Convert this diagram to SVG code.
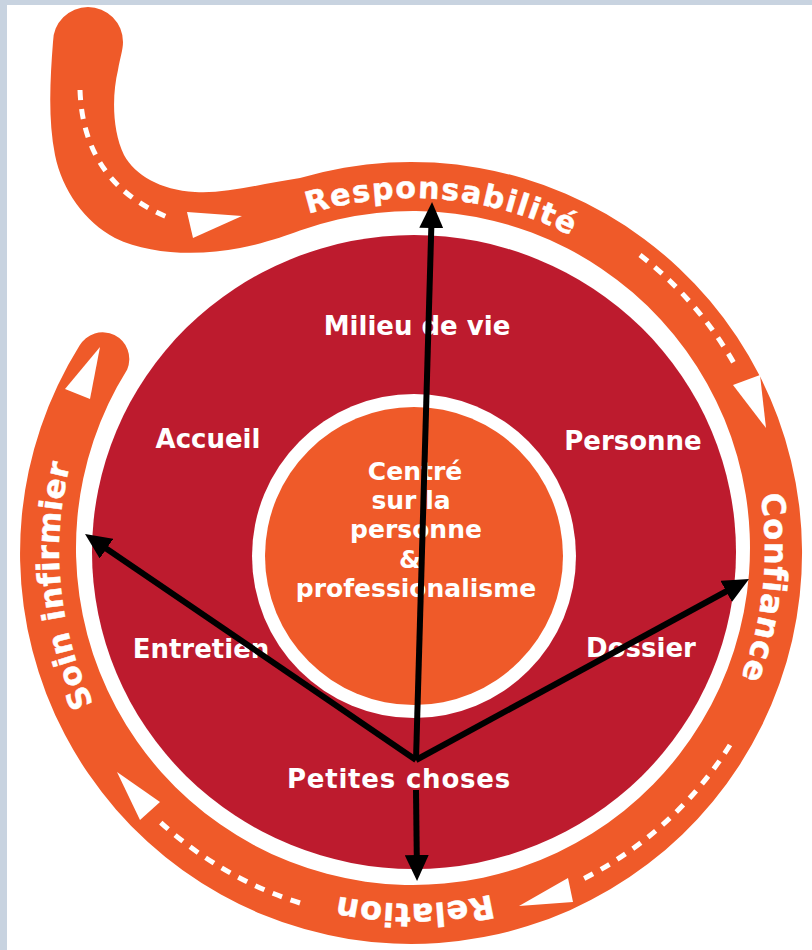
<svg xmlns="http://www.w3.org/2000/svg" width="812" height="950" viewBox="0 0 812 950">
<defs>
<style>
.orange{fill:#ef5a29}
.red{fill:#bd1b2e}
.lbl{font-family:"DejaVu Sans","Liberation Sans",sans-serif;font-weight:bold;fill:#fff;text-anchor:middle;font-size:26px}
.core{font-family:"DejaVu Sans","Liberation Sans",sans-serif;font-weight:bold;fill:#fff;text-anchor:middle;font-size:25px}
.rt{font-family:"DejaVu Sans","Liberation Sans",sans-serif;font-weight:bold;fill:#fff;stroke:#fff;stroke-width:0.5px;font-size:32px;text-anchor:middle}
.dash{fill:none;stroke:#fff;stroke-width:5;stroke-dasharray:10 9}
.tri{fill:#fff}
.arr{fill:none;stroke:#000;stroke-width:6;marker-end:url(#ah)}
</style>
<marker id="ah" markerUnits="userSpaceOnUse" viewBox="0 0 26 24" refX="4" refY="12" markerWidth="26" markerHeight="24" orient="auto"><path d="M0,0 L26,12 L0,24 Z" fill="#000"/></marker>
<path id="tp" d="M163.1,302.1 A352,352 0 1 1 660.9,799.9 A352,352 0 1 1 163.1,302.1"/>
</defs>
<rect x="0" y="0" width="812" height="950" fill="#fff"/>
<rect x="0" y="0" width="812" height="5" fill="#c8d3e0"/>
<rect x="0" y="0" width="7" height="950" fill="#c8d3e0"/>

<g id="spiral">
<path class="orange" d="M53,42 C50,80 48,120 55,155 C62,190 85,222 115,238 C150,255 200,256 240,248 C265,243 285,236 300,230.5 A337,337 0 1 1 127.2,369.4 A26.7,26.7 0 0 0 79.4,345.8 A391,391 0 1 0 300,178 C260,184 225,194 195,192 C160,190 135,175 124,155 C112,130 112,95 118,70 C120,58 123,50 123,42 A35,35 0 0 0 53,42 Z"/>
<path class="dash" d="M80,90 C82,150 110,195 172,219"/>
<path class="dash" d="M640,255 A373,373 0 0 1 735,365"/>
<path class="dash" d="M730,745 A371,371 0 0 1 577,882"/>
<path class="dash" d="M300,903 A370,370 0 0 1 158,820"/>
<polygon class="tri" points="187,212 242,216 193,238"/>
<polygon class="tri" points="733,385 760,375 766,428"/>
<polygon class="tri" points="568,878 573,902 519,906"/>
<polygon class="tri" points="160,802 140,820 117,772"/>
<polygon class="tri" points="65,389 100,347 90,399"/>
<text class="rt" style="font-size:30px;letter-spacing:1.5px"><textPath href="#tp" startOffset="307">Responsabilité</textPath></text>
<text class="rt" style="letter-spacing:1px"><textPath href="#tp" startOffset="868">Confiance</textPath></text>
<text class="rt" style="letter-spacing:0.7px"><textPath href="#tp" startOffset="1382">Relation</textPath></text>
<text class="rt" style="font-size:31px;letter-spacing:0.5px"><textPath href="#tp" startOffset="1904">Soin infirmier</textPath></text>
</g>

<g id="outer-disc">
<ellipse class="red" cx="414" cy="552" rx="322" ry="317"/>
<text class="lbl" x="417" y="335">Milieu de vie</text>
<text class="lbl" x="208" y="448">Accueil</text>
<text class="lbl" x="633" y="450">Personne</text>
<text class="lbl" x="201" y="658">Entretien</text>
<text class="lbl" x="641" y="657">Dossier</text>
<text class="lbl" x="399" y="788" style="letter-spacing:0.8px">Petites choses</text>
</g>

<g id="core">
<circle cx="414" cy="556" r="162" fill="#fff"/>
<circle class="orange" cx="414" cy="556" r="149"/>
<text class="core" x="415" y="480">Centré</text>
<text class="core" x="411" y="509">sur la</text>
<text class="core" x="416" y="538">personne</text>
<text class="core" x="410" y="568">&amp;</text>
<text class="core" x="416" y="597">professionalisme</text>
</g>

<g id="connectors">
<path class="arr" d="M416,760 L431.4,224"/>
<path class="arr" d="M416,760 L103.2,546.4"/>
<path class="arr" d="M416,760 L729.7,589.5"/>
<path class="arr" d="M416,790 L416.8,859"/>
</g>
</svg>
